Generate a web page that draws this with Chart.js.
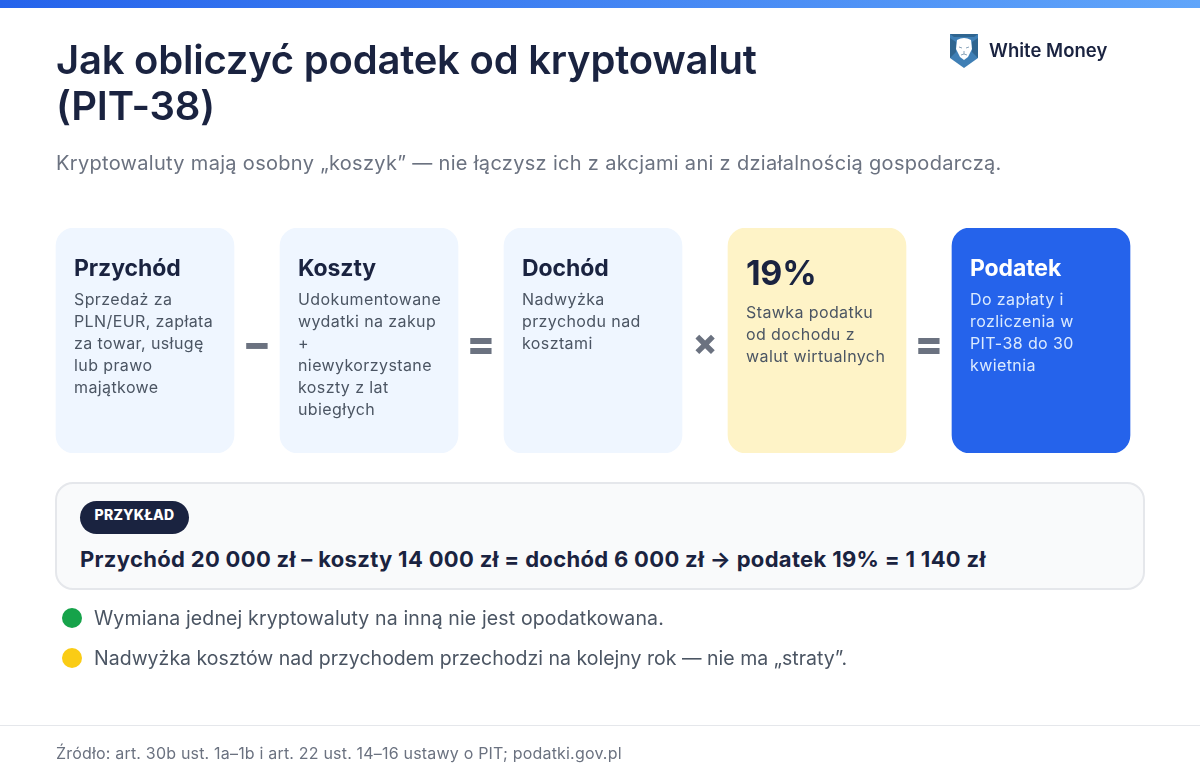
<!DOCTYPE html>
<html lang="pl">
<head>
<meta charset="utf-8">
<title>Jak obliczyć podatek od kryptowalut (PIT-38)</title>
<script src="https://cdn.jsdelivr.net/npm/chart.js@4"></script>
<style>
  html, body { margin: 0; padding: 0; background: #fff; }
  body { width: 1200px; height: 783px; position: relative; overflow: hidden; font-family: Inter, "Noto Sans", sans-serif; color: #1a2340; }
  #topbar { position: absolute; left: 0; top: 0; width: 1200px; height: 8px; background: linear-gradient(90deg, #2563eb, #60a5fa); }
  #cards { position: absolute; left: 0; top: 0; }
  .abs { position: absolute; white-space: pre; }
  #title { left: 56px; top: 37px; font-size: 40px; line-height: 46px; font-weight: 600; letter-spacing: -0.22px; }
  #subtitle { left: 56px; top: 149px; font-size: 20px; line-height: 28px; color: #6b7280; letter-spacing: 0.31px; }
  #brand { left: 989px; top: 37px; font-size: 18.5px; line-height: 26px; font-weight: 600; letter-spacing: 0.02px; }
  #logo { position: absolute; left: 950px; top: 34px; }
  .cardTitle { font-size: 23px; line-height: 30px; font-weight: 700; letter-spacing: -0.1px; }
  .cardBig { font-size: 34px; line-height: 40px; font-weight: 700; letter-spacing: -0.3px; }
  .cardText { font-size: 16px; line-height: 22px; color: #4b5563; letter-spacing: 0.4px; }
  .op { width: 46px; text-align: center; font-size: 42px; line-height: 46px; font-weight: 800; color: #6b7280; }
  .opSmall { font-size: 36px; }
  #exampleBox { position: absolute; left: 55px; top: 482px; width: 1086px; height: 104px; background: #f9fafb; border: 2px solid #e5e7eb; border-radius: 18px; }
  #pill { position: absolute; left: 80px; top: 501px; width: 109px; height: 33px; border-radius: 17px; background: #1a2340; color: #fff; font-size: 14px; font-weight: 800; line-height: 28px; text-align: center; letter-spacing: 0.2px; }
  #example { left: 80px; top: 544px; font-size: 22px; line-height: 30px; font-weight: 700; letter-spacing: 0.32px; }
  .dot { position: absolute; left: 62px; width: 20px; height: 20px; border-radius: 50%; }
  .note { left: 94px; font-size: 19.5px; line-height: 28px; color: #4b5563; letter-spacing: 0.14px; }
  .note + .dot + .note { letter-spacing: 0.02px; }
  #footline { position: absolute; left: 0; top: 725px; width: 1200px; height: 1px; background: #e5e7eb; }
  #source { left: 56px; top: 741px; font-size: 16px; line-height: 24px; color: #6b7280; letter-spacing: 0.19px; }
</style>
</head>
<body>
<div id="topbar"></div>
<canvas id="cards" width="1200" height="783"></canvas>
<div id="texts"></div>

<script>
// one bar = one step of the calculation
const steps = ['Przychód', 'Koszty', 'Dochód', '19%', 'Podatek'];
const stepValues = [1, 1, 1, 1, 1];
const stepTexts = [
    'Sprzedaż za\nPLN/EUR, zapłata\nza towar, usługę\nlub prawo\nmajątkowe',
    'Udokumentowane\nwydatki na zakup\n+\nniewykorzystane\nkoszty z lat\nubiegłych',
    'Nadwyżka\nprzychodu nad\nkosztami',
    'Stawka podatku\nod dochodu z\nwalut wirtualnych',
    'Do zapłaty i\nrozliczenia w\nPIT-38 do 30\nkwietnia'
];
const operators = ['−', '=', '×', '='];
const notes = [
    'Wymiana jednej kryptowaluty na inną nie jest opodatkowana.',
    'Nadwyżka kosztów nad przychodem przechodzi na kolejny rok — nie ma „straty”.'
];

const title = 'Jak obliczyć podatek od kryptowalut\n(PIT-38)';
const subtitle = 'Kryptowaluty mają osobny „koszyk” — nie łączysz ich z akcjami ani z działalnością gospodarczą.';
const exampleLabel = 'PRZYKŁAD';
const exampleText = 'Przychód 20 000 zł – koszty 14 000 zł = dochód 6 000 zł → podatek 19% = 1 140 zł';
const source = 'Źródło: art. 30b ust. 1a–1b i art. 22 ust. 14–16 ustawy o PIT; podatki.gov.pl';
const brand = 'White Money';

const cardColors = ['#eff6ff', '#eff6ff', '#eff6ff', '#fef3c7', '#2563eb'];
const noteColors = ['#16a34a', '#facc15'];

new Chart('cards', {
    type: 'bar',
    data: {
        labels: steps,
        datasets: [{
            data: stepValues,
            backgroundColor: cardColors,
            borderRadius: 18,
            borderSkipped: false,
            barThickness: 178
        }]
    },
    options: {
        responsive: false,
        animation: false,
        events: [],
        layout: { padding: { left: 33, right: 47, top: 228, bottom: 330 } },
        scales: {
            x: { display: false },
            y: { display: false, min: 0, max: 1 }
        },
        plugins: {
            legend: { display: false },
            tooltip: { enabled: false }
        }
    }
});

const box = document.getElementById('texts');

function addText(cls, text, left, top, id) {
    const el = document.createElement('div');
    el.className = 'abs ' + cls;
    el.textContent = text;
    if (id) el.id = id;
    if (left !== null) el.style.left = left + 'px';
    if (top !== null) el.style.top = top + 'px';
    box.appendChild(el);
    return el;
}

addText('', title, null, null, 'title');
addText('', subtitle, null, null, 'subtitle');
addText('', brand, null, null, 'brand');

// shield logo
box.insertAdjacentHTML('beforeend',
    '<svg id="logo" width="28" height="34" viewBox="0 0 28 34">' +
    '<path d="M0 0H28V24L14 34L0 24Z" fill="#3f7fb5"/>' +
    '<path d="M0 0H28L24 3H4Z M0 24L6 18V8L0 4Z M28 24L22 18V8L28 4Z" fill="#2f6590"/>' +
    '<path d="M7 6Q14 2 21 6L22 15L18 23L14 26L10 23L6 15Z" fill="#fff"/>' +
    '<path d="M9 13L12 14M19 13L16 14M14 17V20M11 21L14 20L17 21" stroke="#8aa4ba" stroke-width="1" fill="none"/>' +
    '</svg>');

const exampleBox = document.createElement('div');
exampleBox.id = 'exampleBox';
box.appendChild(exampleBox);

steps.forEach(function (name, i) {
    const x = 74 + i * 224;
    const big = name === '19%';
    const light = i === steps.length - 1;
    const head = addText(big ? 'cardBig' : 'cardTitle', name, x, 253);
    const body = addText('cardText', stepTexts[i], x, big ? 301 : 288);
    if (light) {
        head.style.color = '#ffffff';
        body.style.color = '#dbeafe';
    }
    if (i < operators.length) {
        const op = addText('op', operators[i], 234 + i * 224, operators[i] === '×' ? 319 : 320);
        if (operators[i] === '×') op.classList.add('opSmall');
    }
});

const pill = document.createElement('div');
pill.id = 'pill';
pill.textContent = exampleLabel;
box.appendChild(pill);
addText('', exampleText, null, null, 'example');

notes.forEach(function (note, i) {
    const dot = document.createElement('div');
    dot.className = 'dot';
    dot.style.top = (608 + i * 40) + 'px';
    dot.style.background = noteColors[i];
    box.appendChild(dot);
    addText('note', note, null, 604 + i * 40);
});

const line = document.createElement('div');
line.id = 'footline';
box.appendChild(line);
addText('', source, null, null, 'source');
</script>
</body>
</html>
